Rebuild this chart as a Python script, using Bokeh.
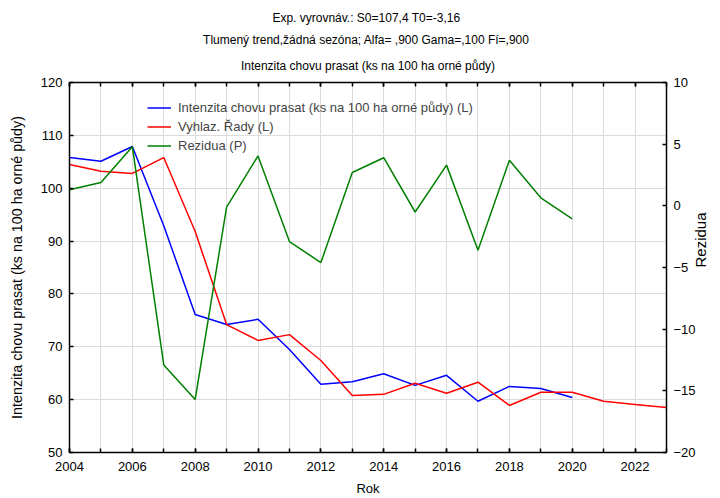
import math
from bokeh.plotting import figure
from bokeh.models import (LinearAxis, Range1d, SingleIntervalTicker, Title,
                          Legend, LegendItem, CustomJSTickFormatter)
from bokeh.embed import file_html
from bokeh.resources import INLINE

# ---- data ----
years_obs = list(range(2004, 2021))
years_fc = list(range(2004, 2024))
intenzita = [105.8, 105.1, 107.9, 92.9, 76.1, 74.2, 75.2, 69.5, 62.9, 63.4,
             64.9, 62.7, 64.6, 59.7, 62.5, 62.1, 60.4]
vyhlaz = [104.5, 103.2, 102.8, 105.8, 91.8, 74.2, 71.2, 72.3, 67.4, 60.8,
          61.0, 63.1, 61.2, 63.3, 58.9, 61.4, 61.4, 59.7, 59.1, 58.5]
rezidua = [1.3, 1.9, 4.8, -12.9, -15.7, -0.1, 4.05, -2.9, -4.6, 2.7,
           3.9, -0.5, 3.3, -3.6, 3.7, 0.65, -1.05]

title1 = "Exp. vyrovnáv.:  S0=107,4 T0=-3,16"
title2 = "Tlumený trend,žádná sezóna; Alfa=  ,900 Gama=,100 Fí=,900"
title3 = "Intenzita chovu prasat (ks na 100 ha orné půdy)"
labels = ["Intenzita chovu prasat (ks na 100 ha orné půdy) (L)",
          "Vyhlaz. Řady (L)", "Rezidua (P)"]
right_label = "Rezidua"

FONT = "Liberation Sans"

p = figure(width=720, height=498, output_backend="svg", toolbar_location=None,
           title=None, x_range=Range1d(2004, 2023), y_range=Range1d(50, 120),
           min_border_left=69, min_border_right=54, min_border_top=82,
           min_border_bottom=46)
p.extra_y_ranges = {"res": Range1d(-20, 10)}
p.outline_line_color = None
p.background_fill_color = "white"

def style_axis(ax):
    ax.axis_line_color = "black"
    ax.axis_line_width = 1.5
    ax.major_tick_in = 4
    ax.major_tick_out = 0
    ax.minor_tick_in = 4
    ax.minor_tick_out = 0
    ax.major_tick_line_color = "black"
    ax.minor_tick_line_color = "black"
    ax.major_tick_line_width = 1.5
    ax.minor_tick_line_width = 1.5
    ax.major_label_text_font = FONT
    ax.major_label_text_font_size = "13px"
    ax.major_label_text_color = "black"
    ax.axis_label_text_font = FONT
    ax.axis_label_text_font_style = "normal"
    ax.axis_label_text_color = "black"

p.xaxis.ticker = SingleIntervalTicker(interval=2, num_minor_ticks=2)
p.xgrid.ticker = SingleIntervalTicker(interval=1, num_minor_ticks=0)
p.yaxis.ticker = SingleIntervalTicker(interval=10, num_minor_ticks=0)
for ax in p.xaxis + p.yaxis:
    style_axis(ax)
p.xaxis.axis_label = "Rok"
p.xaxis.axis_label_text_font_size = "13px"
p.xaxis.major_label_standoff = 9
p.xaxis.axis_label_standoff = 7
p.yaxis.axis_label = title3
p.yaxis.axis_label_text_font_size = "14.3px"
p.yaxis.major_label_standoff = 7
p.yaxis.axis_label_standoff = 13

p.xgrid.grid_line_color = "#dcdcdc"
p.ygrid.grid_line_color = "#dcdcdc"
p.xgrid.grid_line_width = 1
p.ygrid.grid_line_width = 1

ra = LinearAxis(y_range_name="res",
                ticker=SingleIntervalTicker(interval=5, num_minor_ticks=0))
style_axis(ra)
ra.axis_label = right_label
ra.axis_label_text_font_size = "15px"
ra.axis_label_orientation = math.pi / 2
ra.major_label_standoff = 7
ra.axis_label_standoff = 2
p.add_layout(ra, "right")

ta = LinearAxis(ticker=SingleIntervalTicker(interval=2, num_minor_ticks=2),
                formatter=CustomJSTickFormatter(code="return ''"))
style_axis(ta)
ta.major_label_standoff = 0
p.add_layout(ta, "above")

for t, so in [(title3, 19), (title2, 2), (title1, 9)]:
    p.add_layout(Title(text=t, align="center", text_font=FONT,
                       text_font_size="12px", text_font_style="normal",
                       text_color="black", standoff=so), "above")

r1 = p.line(years_obs, intenzita, line_color="#0000ff", line_width=1.5)
r2 = p.line(years_fc, vyhlaz, line_color="#ff0000", line_width=1.5)
r3 = p.line(years_obs, rezidua, line_color="#008000", line_width=1.5,
            y_range_name="res")

leg = Legend(items=[LegendItem(label=labels[0], renderers=[r1]),
                    LegendItem(label=labels[1], renderers=[r2]),
                    LegendItem(label=labels[2], renderers=[r3])],
             location=(78, 297), border_line_color=None,
             background_fill_alpha=0, padding=0, margin=0, spacing=0,
             glyph_width=24, glyph_height=19, label_height=19,
             label_standoff=7, label_text_font=FONT,
             label_text_font_size="13px")
p.add_layout(leg, "center")

open("out.html", "w").write(file_html(p, INLINE))
